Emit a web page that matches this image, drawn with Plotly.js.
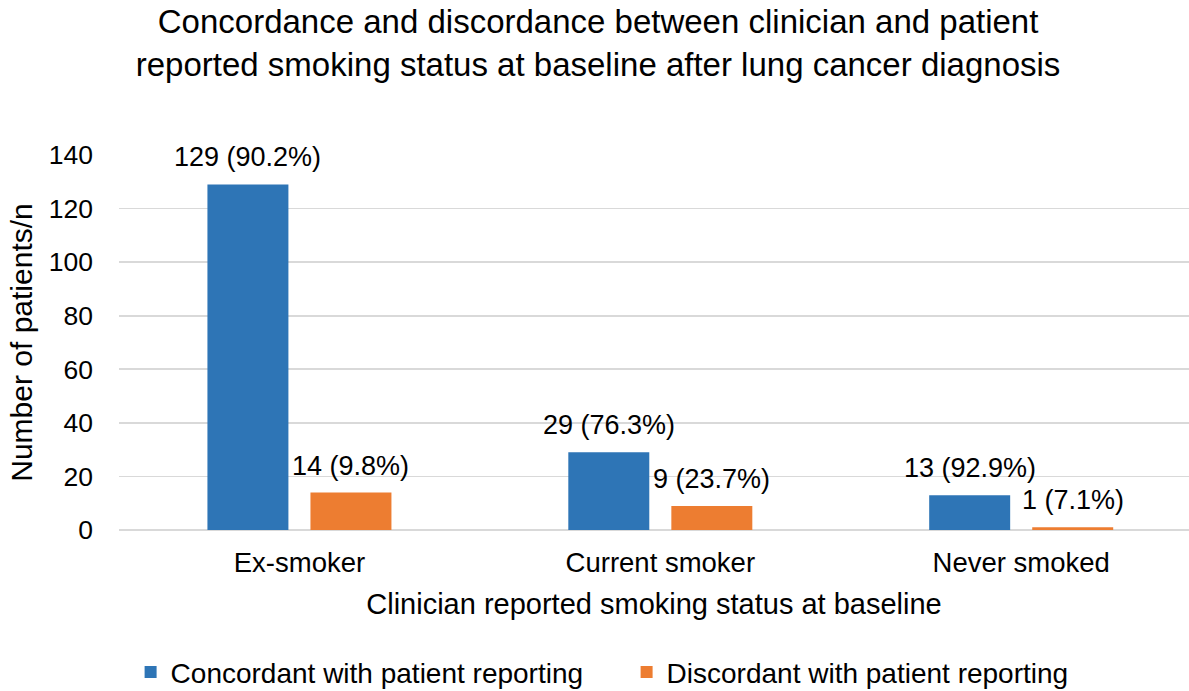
<!DOCTYPE html>
<html>
<head>
<meta charset="utf-8">
<script src="https://cdn.plot.ly/plotly-3.0.1.min.js"></script>
<style>html,body{margin:0;padding:0;overflow:hidden;background:#fff;}</style>
</head>
<body>
<div id="chart" style="width:1189px;height:691px;"></div>
<script>
const categories = ["Ex-smoker", "Current smoker", "Never smoked"];
const concordant = [129, 29, 13];
const discordant = [14, 9, 1];
const concordantLabels = ["129 (90.2%)", "29 (76.3%)", "13 (92.9%)"];
const discordantLabels = ["14 (9.8%)", "9 (23.7%)", "1 (7.1%)"];
const seriesNames = ["Concordant with patient reporting", "Discordant with patient reporting"];

const FONT = "Liberation Sans, Arial, sans-serif";
const labelFont = {size: 27, color: "#000", family: FONT};
const traces = [
  {type: "bar", x: categories, y: concordant, name: seriesNames[0],
   marker: {color: "#2E75B6"}, hoverinfo: "none"},
  {type: "bar", x: categories, y: discordant, name: seriesNames[1],
   marker: {color: "#ED7D31"}, hoverinfo: "none"}
];

// data labels placed above each bar of the group (slot offset = half the group width)
const SLOT = 51.5;
const annotations = [];
categories.forEach((c, i) => {
  annotations.push({x: c, y: concordant[i], xref: "x", yref: "y", text: concordantLabels[i],
    showarrow: false, xanchor: "center", yanchor: "bottom", xshift: -SLOT, yshift: 10, font: labelFont});
  annotations.push({x: c, y: discordant[i], xref: "x", yref: "y", text: discordantLabels[i],
    showarrow: false, xanchor: "center", yanchor: "bottom", xshift: SLOT, yshift: 10, font: labelFont});
});

const layout = {
  width: 1189, height: 691,
  margin: {l: 118.5, r: 0, t: 155, b: 161, pad: 0},
  paper_bgcolor: "#fff", plot_bgcolor: "#fff",
  font: {family: FONT, size: 27, color: "#000"},
  title: {text: "Concordance and discordance between clinician and patient<br>reported smoking status at baseline after lung cancer diagnosis",
          font: {size: 33, color: "#000", family: FONT}, x: 0.503, xref: "container", xanchor: "center",
          y: 0.952, yref: "container", yanchor: "top"},
  barmode: "group", bargap: 0.429, bargroupgap: 0.214,
  xaxis: {range: [-0.5, 2.465], showgrid: false, showline: false, zeroline: false, ticks: "",
          tickfont: {size: 27.5, family: FONT, color: "#000"}, ticklabelstandoff: 13,
          title: {text: "Clinician reported smoking status at baseline", font: {size: 29, family: FONT, color: "#000"}, standoff: 17},
          automargin: false, fixedrange: true},
  yaxis: {range: [0, 140], dtick: 20, showgrid: true, gridcolor: "#D9D9D9", gridwidth: 1.6,
          zeroline: true, zerolinecolor: "#D9D9D9", zerolinewidth: 1.6, showline: false, ticks: "",
          tickfont: {size: 26.5, family: FONT, color: "#000"}, ticklabelstandoff: 25,
          title: {text: "Number of patients/n", font: {size: 30, family: FONT, color: "#000"}, standoff: 7},
          automargin: false, fixedrange: true},
  legend: {orientation: "h", x: 0.527, xref: "container", xanchor: "center", y: 0.027, yref: "container", yanchor: "middle",
           font: {size: 28, family: FONT, color: "#000"}, itemwidth: 30, entrywidth: 451, traceorder: "normal"},
  annotations: annotations,
  showlegend: true
};
Plotly.newPlot("chart", traces, layout, {displayModeBar: false, staticPlot: true});
</script>
</body>
</html>
